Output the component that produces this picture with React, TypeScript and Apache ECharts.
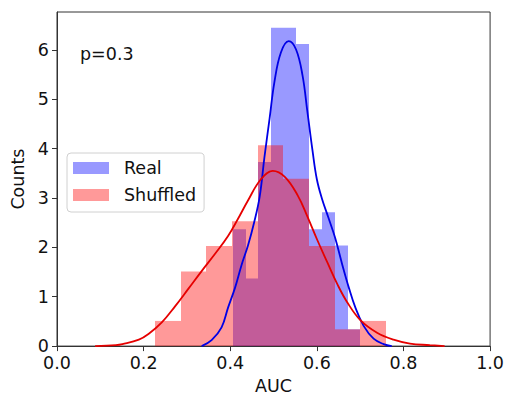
import React, { useEffect, useRef } from "react";
import * as echarts from "echarts";

// Histogram bin edges and heights (density)
const realEdges = [0.407, 0.436, 0.465, 0.495, 0.524, 0.553, 0.583, 0.612, 0.641, 0.671, 0.7];
const realHeights = [2.37, 1.37, 3.73, 6.45, 6.45, 6.12, 2.37, 2.71, 2.04, 0.34];
const shuffledEdges = [0.226, 0.286, 0.345, 0.404, 0.463, 0.522, 0.582, 0.641, 0.7, 0.76];
const shuffledHeights = [0.51, 1.51, 2.03, 2.53, 4.07, 3.39, 2.03, 0.34, 0.51];

// KDE curves
const realKdeX = [0.334, 0.357, 0.38, 0.395, 0.411, 0.426, 0.441, 0.455, 0.468, 0.479, 0.491, 0.502, 0.517, 0.535, 0.552, 0.567, 0.578, 0.59, 0.6, 0.612, 0.626, 0.642, 0.659, 0.674, 0.689, 0.708, 0.731, 0.754, 0.773];
const realKdeY = [0.0, 0.12, 0.38, 0.78, 1.18, 1.64, 2.04, 2.5, 3.03, 3.83, 4.62, 5.35, 5.95, 6.18, 6.01, 5.48, 4.76, 3.96, 3.38, 2.98, 2.62, 2.2, 1.64, 1.18, 0.78, 0.41, 0.15, 0.04, 0.0];
const shuffledKdeX = [0.088, 0.136, 0.151, 0.189, 0.212, 0.242, 0.273, 0.304, 0.334, 0.365, 0.395, 0.418, 0.441, 0.47, 0.498, 0.526, 0.556, 0.578, 0.601, 0.624, 0.647, 0.67, 0.701, 0.739, 0.777, 0.815, 0.861, 0.895];
const shuffledKdeY = [0.0, 0.02, 0.04, 0.13, 0.25, 0.48, 0.81, 1.17, 1.52, 1.87, 2.23, 2.58, 2.95, 3.37, 3.55, 3.43, 3.05, 2.63, 2.15, 1.7, 1.26, 0.89, 0.52, 0.27, 0.13, 0.05, 0.02, 0.0];

const xTicks = [0, 0.2, 0.4, 0.6, 0.8, 1.0];
const yTicks = [0, 1, 2, 3, 4, 5, 6];
const annotation = "p=0.3";

const FONT = "DejaVu Sans";
const FS = 17.5;
const INK = "#111";
const FRAME = "#333";

function binData(edges: number[], heights: number[]) {
  return heights.map((h, i) => [edges[i], edges[i + 1], h]);
}

function zip(xs: number[], ys: number[]) {
  return xs.map((x, i) => [x, ys[i]]);
}

const histRender = (params: any, api: any) => {
  const x0 = api.value(0);
  const x1 = api.value(1);
  const h = api.value(2);
  const p0 = api.coord([x0, h]);
  const p1 = api.coord([x1, 0]);
  const left = Math.round(p0[0]);
  const right = Math.round(p1[0]);
  return {
    type: "rect",
    shape: { x: left, y: p0[1], width: right - left, height: p1[1] - p0[1] },
    style: { fill: api.visual("color") },
  };
};

export default function App() {
  const ref = useRef<HTMLDivElement>(null);
  useEffect(() => {
    if (!ref.current) return;
    const chart = echarts.init(ref.current, null, { renderer: "svg" });
    chart.setOption({
      animation: false,
      backgroundColor: "#fff",
      textStyle: { fontFamily: FONT },
      grid: {
        left: 57,
        right: 13,
        top: 12,
        bottom: 47,
        show: true,
        borderColor: FRAME,
        borderWidth: 1,
        backgroundColor: "transparent",
      },
      legend: {
        data: ["Real", "Shuffled"],
        orient: "vertical",
        left: 67,
        top: 153,
        icon: "rect",
        itemWidth: 36,
        itemHeight: 12,
        itemGap: 9,
        padding: [6, 8, 8, 6],
        borderColor: "#d0d0d0",
        borderWidth: 1,
        borderRadius: 4,
        backgroundColor: "rgba(255,255,255,0.8)",
        selectedMode: false,
        textStyle: { fontSize: FS, color: INK, fontFamily: FONT, padding: [0, 0, 0, 10] },
      },
      graphic: [
        {
          type: "text",
          left: 80,
          top: 45,
          style: { text: annotation, fontSize: FS, fontFamily: FONT, fill: INK },
        },
      ],
      xAxis: {
        type: "value",
        min: 0,
        max: 1,
        interval: 0.2,
        name: "AUC",
        nameLocation: "middle",
        nameGap: 30,
        nameTextStyle: { fontSize: FS, color: INK, fontFamily: FONT },
        splitLine: { show: false },
        axisLine: { show: true, lineStyle: { color: FRAME, width: 1 } },
        axisTick: { show: true, length: 5, lineStyle: { color: FRAME }, customValues: xTicks },
        axisLabel: {
          fontSize: FS,
          color: INK,
          fontFamily: FONT,
          margin: 8,
          customValues: xTicks,
          formatter: (v: number) => v.toFixed(1),
        },
      },
      yAxis: {
        type: "value",
        min: 0,
        max: 6.77,
        name: "Counts",
        nameLocation: "middle",
        nameGap: 30,
        nameTextStyle: { fontSize: FS, color: INK, fontFamily: FONT },
        splitLine: { show: false },
        axisLine: { show: true, lineStyle: { color: FRAME, width: 1 } },
        axisTick: { show: true, length: 5, lineStyle: { color: FRAME }, customValues: yTicks },
        axisLabel: {
          fontSize: FS,
          color: INK,
          fontFamily: FONT,
          margin: 8,
          customValues: yTicks,
          formatter: (v: number) => String(Math.round(v)),
        },
      },
      series: [
        {
          name: "Real",
          type: "custom",
          renderItem: histRender,
          itemStyle: { color: "rgba(0,0,255,0.4)" },
          encode: { x: [0, 1], y: 2 },
          data: binData(realEdges, realHeights),
          z: 1,
        },
        {
          name: "Shuffled",
          type: "custom",
          renderItem: histRender,
          itemStyle: { color: "rgba(255,0,0,0.4)" },
          encode: { x: [0, 1], y: 2 },
          data: binData(shuffledEdges, shuffledHeights),
          z: 1,
        },
        {
          name: "Real KDE",
          type: "line",
          data: zip(realKdeX, realKdeY),
          smooth: 0.4,
          symbol: "none",
          lineStyle: { color: "#0000e6", width: 1.8 },
          z: 3,
        },
        {
          name: "Shuffled KDE",
          type: "line",
          data: zip(shuffledKdeX, shuffledKdeY),
          smooth: 0.4,
          symbol: "none",
          lineStyle: { color: "#e60000", width: 1.8 },
          z: 3,
        },
      ],
    });
    return () => chart.dispose();
  }, []);
  return (
    <div
      ref={ref}
      style={{ position: "fixed", left: 0, top: 0, width: 507, height: 400 }}
    />
  );
}
